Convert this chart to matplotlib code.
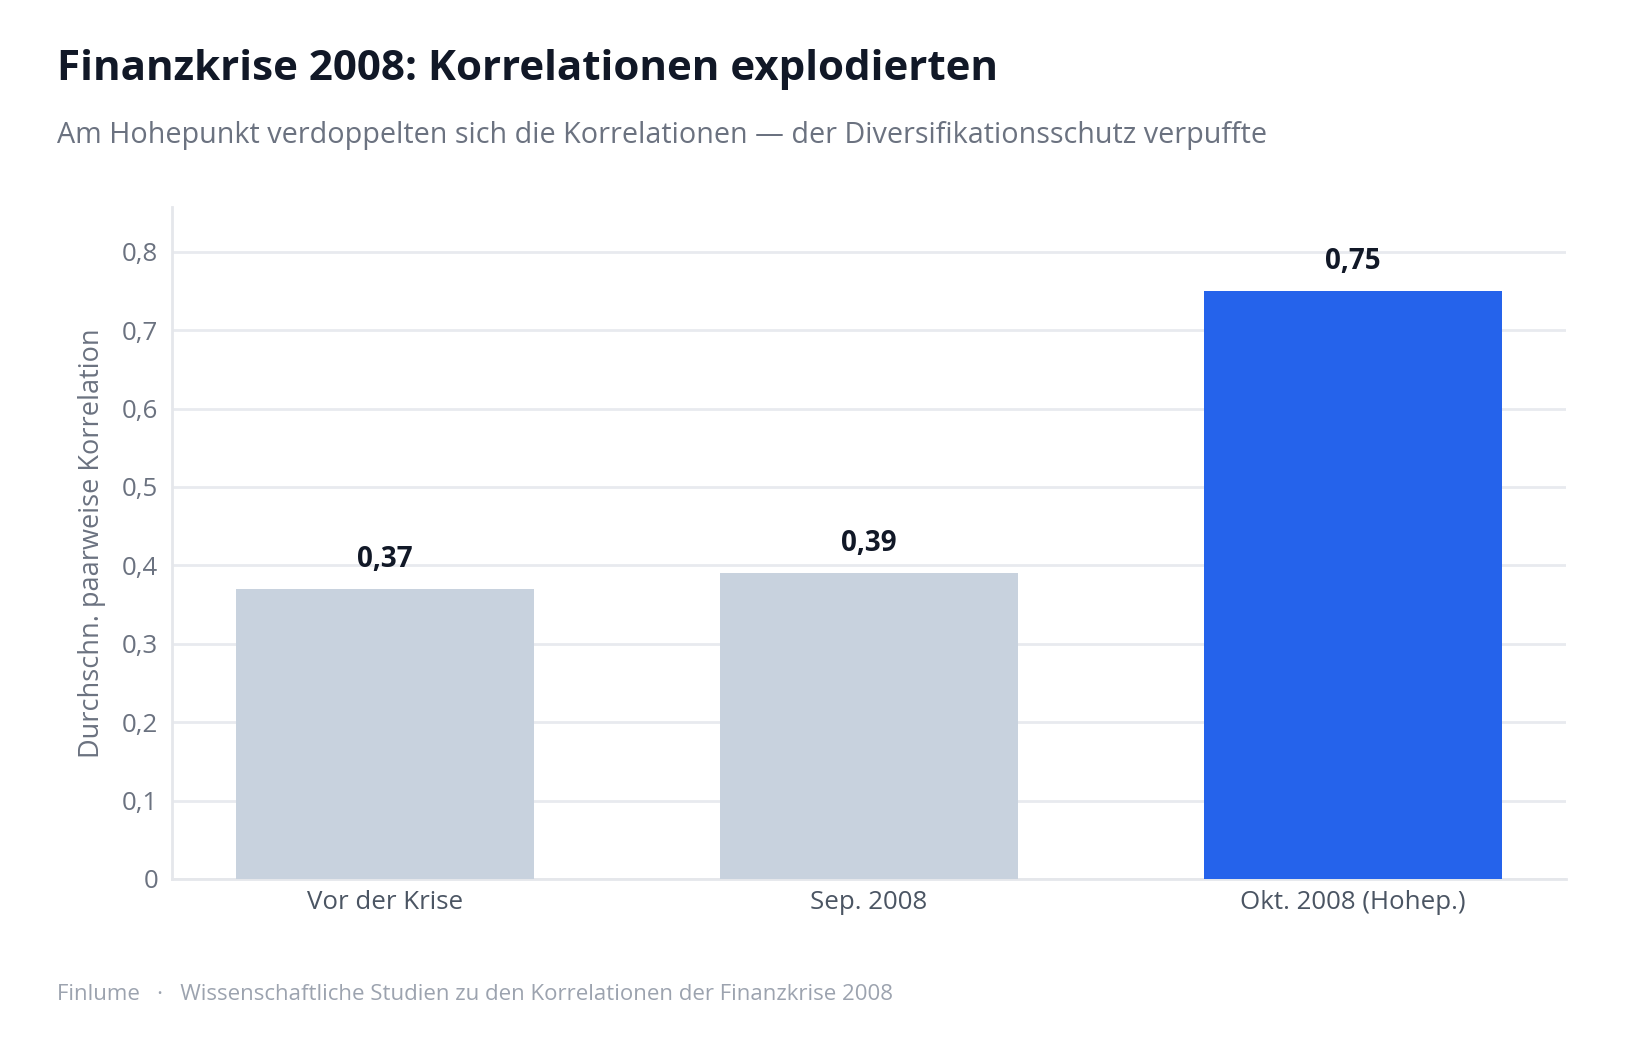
import matplotlib
matplotlib.use("Agg")
import matplotlib.pyplot as plt
from matplotlib.ticker import FixedLocator, FuncFormatter

plt.rcParams['font.family'] = ['Open Sans', 'Noto Sans', 'DejaVu Sans']

categories = ["Vor der Krise", "Sep. 2008", "Okt. 2008 (Hohep.)"]
values = [0.37, 0.39, 0.75]
bar_colors = ["#c8d2de", "#c8d2de", "#2563eb"]
y_ticks = [0, 0.1, 0.2, 0.3, 0.4, 0.5, 0.6, 0.7, 0.8]

title = "Finanzkrise 2008: Korrelationen explodierten"
subtitle = "Am Hohepunkt verdoppelten sich die Korrelationen \u2014 der Diversifikationsschutz verpuffte"
ylabel = "Durchschn. paarweise Korrelation"
footer = "Finlume   \u00b7   Wissenschaftliche Studien zu den Korrelationen der Finanzkrise 2008"

W, H = 1639, 1040
fig = plt.figure(figsize=(W / 100, H / 100), dpi=100)
fig.patch.set_facecolor("white")
ax = fig.add_axes([172 / W, 1 - 879 / H, (1566 - 172) / W, (879 - 207) / H])

x = list(range(len(categories)))
bars = ax.bar(x, values, width=0.617, color=bar_colors, zorder=3)
ax.set_xlim(-0.44, len(categories) - 1 + 0.44)
ax.set_ylim(0, 0.857)

ax.yaxis.set_major_locator(FixedLocator(y_ticks))
ax.yaxis.set_major_formatter(FuncFormatter(lambda v, p: ("%g" % round(v, 2)).replace(".", ",")))
ax.grid(axis="y", color="#e8eaef", linewidth=2, zorder=0)
ax.set_axisbelow(True)
ax.set_xticks(x)
ax.set_xticklabels(categories)
ax.tick_params(axis="both", length=0, labelsize=18.6, labelcolor="#4b5563")
ax.tick_params(axis="x", pad=8)
ax.tick_params(axis="y", pad=10)
for lbl in ax.get_yticklabels():
    lbl.set_color("#6b7280")

for s in ["top", "right"]:
    ax.spines[s].set_visible(False)
for s in ["left", "bottom"]:
    ax.spines[s].set_color("#e5e7eb")
    ax.spines[s].set_linewidth(2)

ax.set_ylabel(ylabel, fontsize=19.5, color="#6b7280", labelpad=11)

for b, v in zip(bars, values):
    ax.annotate(("%.2f" % v).replace(".", ","), (b.get_x() + b.get_width() / 2, v),
                xytext=(0, 11), textcoords="offset points", ha="center", va="bottom",
                fontsize=20, fontweight="bold", color="#111827")

fig.text(57 / W, 1 - 69 / H, title, fontsize=30.3, fontweight="bold", color="#111827",
         ha="left", va="center")
fig.text(57 / W, 1 - 135 / H, subtitle, fontsize=20.7, color="#6b7280", ha="left", va="center")
fig.text(57 / W, 1 - 994 / H, footer, fontsize=16, color="#9ca3af", ha="left", va="center")

fig.savefig("out.png", dpi=100, facecolor="white")
